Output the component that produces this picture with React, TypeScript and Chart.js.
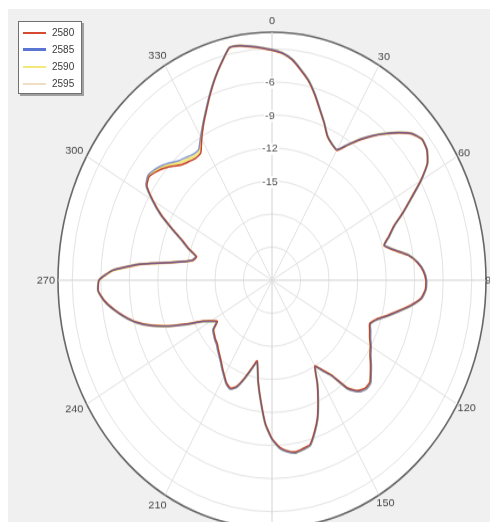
import { useEffect, useRef } from 'react';
import { Chart, registerables } from 'chart.js';

Chart.register(...registerables);

// Azimuth samples (degrees, clockwise from top)
const angleCategories: number[] = Array.from({ length: 120 }, (_, i) => i * 3);

// Gain in dB per frequency (MHz)
const s2580 = [
  -3.12, -3.38, -3.88, -4.70, -5.52, -6.60, -7.74, -8.72, -9.70, -10.15,
  -10.38, -9.38, -8.24, -7.15, -6.12, -5.08, -4.17, -3.70, -3.88, -4.53,
  -5.95, -7.58, -8.95, -10.28, -11.08, -11.82, -10.88, -9.50, -8.64, -8.08,
  -7.82, -7.85, -8.25, -9.28, -10.48, -11.52, -12.48, -13.00, -12.76, -12.48,
  -12.06, -11.72, -11.20, -10.68, -10.16, -10.14, -10.52, -11.42, -13.36, -14.30,
  -15.00, -13.52, -12.12, -10.66, -9.54, -8.56, -8.38, -8.22, -8.42, -8.82,
  -9.64, -10.94, -12.92, -14.72, -16.52, -15.70, -14.66, -13.68, -13.28, -13.50,
  -14.00, -14.46, -14.90, -15.26, -15.56, -15.86, -16.00, -16.20, -16.40, -17.15,
  -16.62, -15.82, -14.22, -12.44, -10.72, -9.26, -8.16, -7.16, -6.28, -5.70,
  -5.82, -7.22, -10.10, -13.64, -15.44, -15.80, -14.84, -13.88, -12.50, -10.92,
  -9.56, -8.32, -8.02, -8.36, -8.80, -9.36, -9.88, -10.14, -10.34, -10.25,
  -9.22, -8.14, -7.08, -5.90, -4.70, -3.56, -2.45, -2.48, -2.70, -2.91,
];
const s2585 = [
  -3.08, -3.34, -3.83, -4.62, -5.45, -6.52, -7.66, -8.66, -9.64, -10.10,
  -10.32, -9.30, -8.17, -7.09, -6.06, -5.03, -4.12, -3.66, -3.83, -4.47,
  -5.87, -7.49, -8.86, -10.20, -11.00, -11.74, -10.78, -9.42, -8.56, -8.00,
  -7.74, -7.77, -8.16, -9.18, -10.38, -11.43, -12.38, -12.90, -12.64, -12.36,
  -11.94, -11.60, -11.08, -10.56, -10.02, -9.99, -10.37, -11.27, -13.22, -14.16,
  -14.90, -13.42, -12.01, -10.55, -9.43, -8.45, -8.27, -8.12, -8.33, -8.72,
  -9.54, -10.83, -12.80, -14.60, -16.38, -15.58, -14.55, -13.57, -13.17, -13.40,
  -13.90, -14.35, -14.80, -15.15, -15.45, -15.75, -15.90, -16.10, -16.30, -17.04,
  -16.50, -15.70, -14.12, -12.34, -10.62, -9.18, -8.08, -7.10, -6.22, -5.66,
  -5.78, -7.16, -10.02, -13.56, -15.36, -15.70, -14.72, -13.76, -12.38, -10.80,
  -9.44, -8.20, -7.86, -8.08, -8.44, -8.92, -9.40, -9.66, -9.88, -9.84,
  -8.98, -8.02, -6.98, -5.82, -4.64, -3.52, -2.41, -2.44, -2.65, -2.86,
];
const s2590 = [
  -3.10, -3.36, -3.85, -4.65, -5.48, -6.56, -7.70, -8.69, -9.67, -10.12,
  -10.34, -9.33, -8.20, -7.12, -6.09, -5.06, -4.15, -3.68, -3.85, -4.49,
  -5.90, -7.53, -8.90, -10.24, -11.04, -11.78, -10.83, -9.46, -8.60, -8.04,
  -7.78, -7.81, -8.20, -9.22, -10.42, -11.47, -12.43, -12.95, -12.70, -12.42,
  -12.00, -11.66, -11.14, -10.62, -10.10, -10.07, -10.44, -11.34, -13.29, -14.23,
  -14.95, -13.47, -12.06, -10.60, -9.48, -8.50, -8.32, -8.17, -8.38, -8.77,
  -9.59, -10.88, -12.85, -14.65, -16.45, -15.63, -14.60, -13.62, -13.22, -13.45,
  -13.95, -14.40, -14.85, -15.20, -15.50, -15.80, -15.95, -16.15, -16.35, -17.10,
  -16.56, -15.76, -14.17, -12.39, -10.67, -9.22, -8.12, -7.13, -6.25, -5.68,
  -5.80, -7.19, -10.06, -13.60, -15.40, -15.75, -14.78, -13.82, -12.44, -10.86,
  -9.50, -8.26, -7.94, -8.23, -8.61, -9.13, -9.63, -9.89, -10.10, -10.03,
  -9.08, -8.08, -7.03, -5.86, -4.67, -3.54, -2.43, -2.46, -2.67, -2.88,
];
const s2595 = [
  -3.11, -3.37, -3.86, -4.66, -5.50, -6.58, -7.71, -8.70, -9.68, -10.13,
  -10.35, -9.35, -8.21, -7.13, -6.10, -5.07, -4.16, -3.69, -3.86, -4.50,
  -5.91, -7.55, -8.92, -10.25, -11.05, -11.80, -10.85, -9.47, -8.61, -8.05,
  -7.79, -7.82, -8.21, -9.24, -10.44, -11.49, -12.45, -12.97, -12.72, -12.44,
  -12.02, -11.68, -11.16, -10.64, -10.12, -10.09, -10.46, -11.36, -13.31, -14.25,
  -14.97, -13.49, -12.08, -10.62, -9.50, -8.52, -8.34, -8.19, -8.40, -8.79,
  -9.61, -10.90, -12.87, -14.67, -16.47, -15.65, -14.62, -13.64, -13.24, -13.47,
  -13.97, -14.42, -14.87, -15.22, -15.52, -15.82, -15.97, -16.17, -16.37, -17.12,
  -16.58, -15.78, -14.19, -12.41, -10.69, -9.24, -8.14, -7.14, -6.26, -5.69,
  -5.81, -7.20, -10.08, -13.62, -15.42, -15.77, -14.80, -13.84, -12.46, -10.88,
  -9.52, -8.28, -7.96, -8.25, -8.64, -9.16, -9.66, -9.92, -10.13, -10.06,
  -9.10, -8.10, -7.05, -5.88, -4.68, -3.55, -2.44, -2.47, -2.68, -2.89,
];

const seriesNames = ['2580', '2585', '2590', '2595'];
const seriesData = [s2580, s2585, s2590, s2595];
const seriesColors = ['#d64a32', '#5a76d2', '#f2ea78', '#f1dcc4'];
const seriesStroke = ['#c8442e', 'rgba(70, 95, 190, 0.62)', '#f2ea78', '#f1dcc4'];
const seriesWidths = [1.5, 1.5, 2.2, 2.6];
const seriesOrder = [2, 1, 3, 4];

// Radial rings (dB) and the ones that carry a label
const ringValues = [-24, -21, -18, -15, -12, -9, -6, -3, -1.5];
const ringLabels = [-6, -9, -12, -15];
// Azimuth labels
const azimuthLabels = [0, 30, 60, 90, 120, 150, 180, 210, 240, 270, 300, 330];

// The plot is drawn round and stretched vertically into an ellipse
const STRETCH = 248 / 214;
const FONT = '11px "Liberation Sans", Arial, sans-serif';

const polarDecor = {
  id: 'polarDecor',
  beforeDraw(chart: any) {
    const r = chart.scales.r;
    const ctx = chart.ctx;
    ctx.save();
    ctx.fillStyle = '#ffffff';
    ctx.beginPath();
    ctx.arc(r.xCenter, r.yCenter, r.drawingArea, 0, Math.PI * 2);
    ctx.fill();
    ctx.restore();
  },
  beforeDatasetsDraw(chart: any) {
    const r = chart.scales.r;
    const ctx = chart.ctx;
    ctx.save();
    ctx.font = FONT;
    ctx.textAlign = 'center';
    ctx.textBaseline = 'middle';
    for (const v of ringLabels) {
      const d = r.getDistanceFromCenterForValue(v);
      const text = String(v);
      const w = ctx.measureText(text).width;
      ctx.save();
      ctx.translate(r.xCenter - 2, r.yCenter - d + 1);
      ctx.scale(1, 1 / STRETCH);
      ctx.fillStyle = '#ffffff';
      ctx.fillRect(-w / 2 - 1, -6, w + 2, 12);
      ctx.fillStyle = '#555555';
      ctx.fillText(text, 0, 0);
      ctx.restore();
    }
    ctx.restore();
  },
  afterDraw(chart: any) {
    const r = chart.scales.r;
    const ctx = chart.ctx;
    ctx.save();
    ctx.font = FONT;
    ctx.textAlign = 'center';
    ctx.textBaseline = 'middle';
    ctx.fillStyle = '#4a4a4a';
    const h = 10;
    for (const a of azimuthLabels) {
      const idx = angleCategories.indexOf(a);
      const t = (a * Math.PI) / 180;
      const side = Math.sin(t) > 0 ? -1 : 3;
      const gap = 5 * Math.abs(Math.cos(t)) + side * Math.abs(Math.sin(t));
      const p = r.getPointPosition(idx, r.drawingArea + gap);
      const text = String(a);
      const w = ctx.measureText(text).width;
      const ox = Math.sin(t) * (w / 2);
      const oy = (-Math.cos(t) * (h / 2)) / STRETCH;
      ctx.save();
      ctx.translate(p.x + ox, p.y + oy);
      ctx.scale(1, 1 / STRETCH);
      ctx.fillText(text, 0, 0);
      ctx.restore();
    }
    ctx.restore();
  },
};

function PolarPattern() {
  const canvasRef = useRef<HTMLCanvasElement | null>(null);

  useEffect(() => {
    const canvas = canvasRef.current;
    if (!canvas) return;
    const chart = new Chart(canvas, {
      type: 'radar',
      data: {
        labels: angleCategories.map(String),
        datasets: seriesNames.map((name, i) => ({
          label: name,
          data: seriesData[i],
          borderColor: seriesStroke[i],
          backgroundColor: 'transparent',
          borderWidth: seriesWidths[i],
          order: seriesOrder[i],
          pointRadius: 0,
          pointHoverRadius: 0,
          fill: false,
          tension: 0.15,
        })),
      },
      options: {
        responsive: false,
        animation: false,
        devicePixelRatio: 1,
        layout: { padding: { left: 50, right: 12, top: 20, bottom: 22 } },
        plugins: {
          legend: { display: false },
          tooltip: { enabled: false },
        },
        scales: {
          r: {
            min: ringValues[0],
            max: ringValues[ringValues.length - 1],
            afterBuildTicks: (scale: any) => {
              scale.ticks = ringValues.map((v) => ({ value: v }));
            },
            ticks: { display: false },
            pointLabels: { display: false },
            grid: {
              circular: true,
              color: (c: any) => (c.index === ringValues.length - 1 ? '#666666' : '#e4e4e4'),
              lineWidth: (c: any) => (c.index === ringValues.length - 1 ? 1.6 : 1),
            },
            angleLines: {
              color: (c: any) => {
                const a = angleCategories[c.index];
                if (a % 90 === 0) return '#d2d2d2';
                if (a % 30 === 0) return '#e2e2e2';
                return 'transparent';
              },
              lineWidth: 1,
            },
          },
        },
      } as any,
      plugins: [polarDecor],
    });
    return () => chart.destroy();
  }, []);

  return (
    <div
      style={{
        position: 'relative',
        top: 1,
        width: 490,
        height: 514,
        background: '#f0f0f0',
        overflow: 'hidden',
      }}
    >
      <canvas
        ref={canvasRef}
        width={490}
        height={470}
        style={{
          position: 'absolute',
          left: 0,
          top: 0,
          width: 490,
          height: 470,
          transform: `scaleY(${STRETCH})`,
          transformOrigin: '0 0',
        }}
      />
      <div
        style={{
          position: 'absolute',
          left: 10,
          top: 12,
          width: 64,
          height: 73,
          background: '#ffffff',
          border: '1px solid #707070',
          boxShadow: '2px 2px 0 #a0a0a0',
          paddingTop: 2,
          boxSizing: 'border-box',
          font: '10px "Liberation Sans", Arial, sans-serif',
          color: '#3a3a3a',
        }}
      >
        {seriesNames.map((name, i) => (
          <div key={name} style={{ display: 'flex', alignItems: 'center', height: 17 }}>
            <span
              style={{
                display: 'inline-block',
                marginLeft: 4,
                width: 23,
                height: i === 1 ? 3 : 2,
                background: seriesColors[i],
              }}
            />
            <span style={{ marginLeft: 6 }}>{name}</span>
          </div>
        ))}
      </div>
    </div>
  );
}

export default function App() {
  return <PolarPattern />;
}
